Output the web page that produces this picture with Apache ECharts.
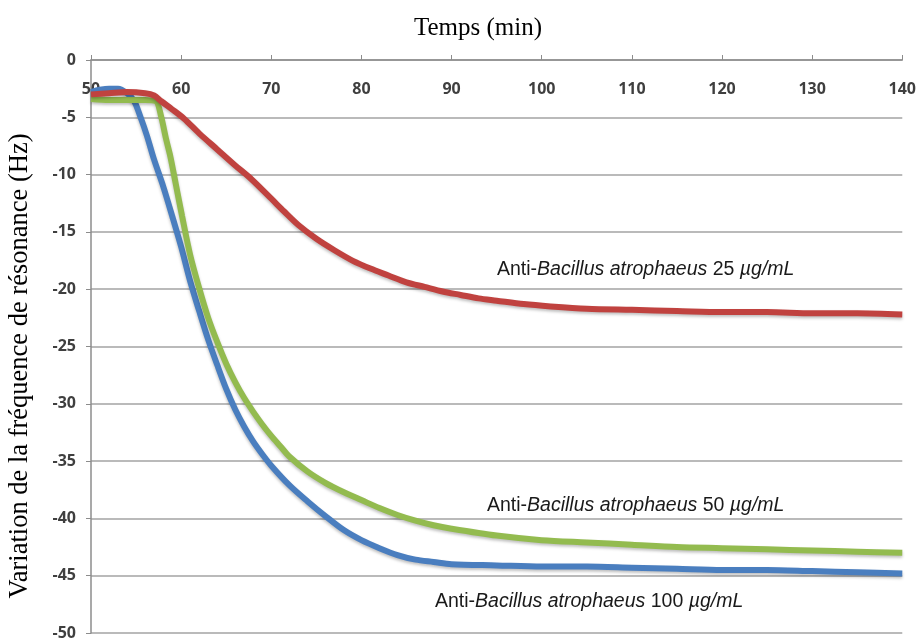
<!DOCTYPE html>
<html>
<head>
<meta charset="utf-8">
<script src="https://cdn.jsdelivr.net/npm/echarts@6/dist/echarts.min.js"></script>
<style>html,body{margin:0;padding:0;background:#fff}#c{width:919px;height:641px}</style>
</head>
<body>
<div id="c"></div>
<script>
// Anti-Bacillus atrophaeus 100 µg/mL (blue)
const tBlue = [50,51,52,53,54,54.8,55.5,56.2,57,58,59,60,61,62,63,64,65,66,67,68,69,70,72,74,76,78,80,82,84,86,88,90,95,100,105,110,115,120,125,130,135,140];
const vBlue = [-2.8,-2.6,-2.5,-2.5,-2.9,-3.6,-5.0,-6.6,-8.7,-11.0,-13.6,-16.3,-19.3,-21.9,-24.4,-26.6,-28.7,-30.5,-32.0,-33.3,-34.4,-35.4,-37.1,-38.5,-39.8,-41.0,-41.9,-42.6,-43.2,-43.6,-43.8,-44.0,-44.1,-44.2,-44.2,-44.3,-44.4,-44.5,-44.5,-44.6,-44.7,-44.8];
// Anti-Bacillus atrophaeus 50 µg/mL (green)
const tGreen = [50,52,54,56,57.2,57.8,58.3,58.8,59.4,60.1,61,62,63,64,65,66,67,68,69,70,71,72,74,76,78,80,82,84,86,88,90,95,100,105,110,115,120,125,130,135,140];
const vGreen = [-3.4,-3.5,-3.5,-3.5,-3.6,-5.0,-6.8,-8.4,-10.8,-13.6,-17.0,-19.9,-22.5,-24.6,-26.5,-28.1,-29.5,-30.7,-31.8,-32.8,-33.7,-34.6,-35.9,-36.9,-37.7,-38.4,-39.1,-39.7,-40.2,-40.6,-40.9,-41.5,-41.9,-42.1,-42.3,-42.5,-42.6,-42.7,-42.8,-42.9,-43.0];
// Anti-Bacillus atrophaeus 25 µg/mL (red)
const tRed = [50,52,54,56,57,57.8,59,60.3,62,64,66,67.8,70,71.4,73,75,77,79,81,83,85,87,89,91,93,95,98,101,105,110,115,120,125,130,135,140];
const vRed = [-3.0,-2.9,-2.8,-2.9,-3.1,-3.6,-4.3,-5.1,-6.4,-7.8,-9.2,-10.4,-12.1,-13.2,-14.4,-15.6,-16.6,-17.5,-18.2,-18.8,-19.4,-19.8,-20.2,-20.5,-20.8,-21.0,-21.3,-21.5,-21.7,-21.8,-21.9,-22.0,-22.0,-22.1,-22.1,-22.2];

const xTicks = [50,60,70,80,90,100,110,120,130,140];
const yTicks = [0,-5,-10,-15,-20,-25,-30,-35,-40,-45,-50];
const seriesNames = ['Anti-Bacillus atrophaeus 100 µg/mL','Anti-Bacillus atrophaeus 50 µg/mL','Anti-Bacillus atrophaeus 25 µg/mL'];
const concLabels = ['100','50','25'];
const xTitle = 'Temps (min)';
const yTitle = 'Variation de la fréquence de résonance (Hz)';

const zip = (a, b) => a.map((t, i) => [t, b[i]]);

function lineSeries(name, data, color) {
  return {
    name, type: 'line', data, smooth: 0.3, showSymbol: false, symbol: 'none',
    lineStyle: { color, width: 6, shadowColor: 'rgba(0,0,0,0.25)', shadowBlur: 3, shadowOffsetY: 2 },
    z: 3
  };
}

const annFamily = 'Liberation Sans, Arial, sans-serif';
function annotation(left, top, conc) {
  return {
    type: 'text', left, top,
    style: {
      text: '{n|Anti-}{i|Bacillus atrophaeus}{n| ' + conc + ' }{i|µg/mL}',
      rich: {
        n: { fontFamily: annFamily, fontSize: 19.5, fill: '#1a1a1a' },
        i: { fontFamily: annFamily, fontSize: 19.5, fontStyle: 'italic', fill: '#1a1a1a' }
      }
    }
  };
}

const axisFont = 'Open Sans, Liberation Sans, sans-serif';
const chart = echarts.init(document.getElementById('c'), null, { renderer: 'canvas' });
chart.setOption({
  animation: false,
  backgroundColor: '#fff',
  grid: { left: 91, right: 16, top: 60, bottom: 6, containLabel: false },
  xAxis: {
    type: 'value', min: 50, max: 140, interval: 10, position: 'top',
    axisLine: { show: true, lineStyle: { color: '#8c8c8c', width: 1.5 } },
    axisTick: { show: true, inside: false, length: 5, lineStyle: { color: '#8c8c8c' } },
    axisLabel: {
      inside: true, margin: 21, color: '#3f3f3f', fontSize: 16, fontWeight: 'bold',
      fontFamily: axisFont,
      formatter: v => xTicks.includes(v) ? String(v) : ''
    },
    splitLine: { show: false }
  },
  yAxis: {
    type: 'value', min: -50, max: 0, interval: 5,
    axisLine: { show: true, onZero: false, lineStyle: { color: '#8c8c8c', width: 1.5 } },
    axisTick: { show: true, length: 5, lineStyle: { color: '#8c8c8c' } },
    axisLabel: {
      margin: 15, color: '#3f3f3f', fontSize: 16, fontWeight: 'bold',
      fontFamily: axisFont,
      formatter: v => yTicks.includes(v) ? String(v) : ''
    },
    splitLine: { show: true, lineStyle: { color: '#a3a3a3', width: 1.5 } }
  },
  series: [
    lineSeries(seriesNames[0], zip(tBlue, vBlue), '#4a7ebf'),
    lineSeries(seriesNames[1], zip(tGreen, vGreen), '#93bb4f'),
    lineSeries(seriesNames[2], zip(tRed, vRed), '#c0423f')
  ],
  graphic: [
    { type: 'text', x: 478, y: 28,
      style: { text: xTitle, fontFamily: 'Liberation Serif, Times New Roman, serif', fontSize: 25, fill: '#000',
               align: 'center', verticalAlign: 'middle' } },
    { type: 'text', x: 7, y: 366, rotation: Math.PI / 2, originX: 0, originY: 0,
      style: { text: yTitle, fontFamily: 'Liberation Serif, Times New Roman, serif', fontSize: 26.5, fill: '#000',
               align: 'center', verticalAlign: 'top' } },
    annotation(497, 260, concLabels[2]),
    annotation(487, 496, concLabels[1]),
    annotation(435, 592, concLabels[0])
  ]
});
</script>
</body>
</html>
